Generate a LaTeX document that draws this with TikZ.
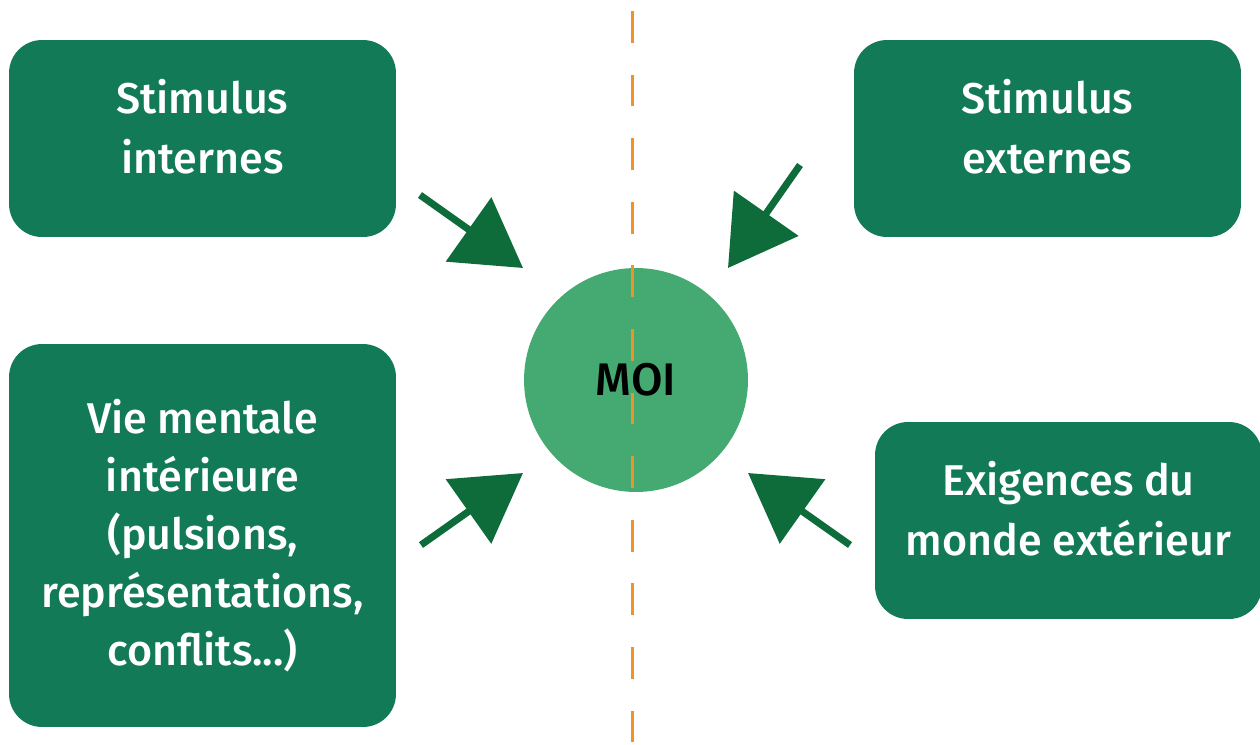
\documentclass[tikz,border=0pt]{standalone}
\usepackage{fontspec}
\setmainfont{Fira Sans}[UprightFont={* Medium}, BoldFont={* SemiBold}]
\usetikzlibrary{arrows.meta}
\definecolor{boxgreen}{RGB}{18,122,87}
\definecolor{moigreen}{RGB}{68,170,114}
\definecolor{arrowgreen}{RGB}{14,107,58}
\definecolor{dashorange}{RGB}{240,146,43}
\begin{document}
\begin{tikzpicture}[x=0.02cm,y=-0.02cm,
    bloc/.style={rectangle, rounded corners=0.66cm, fill=boxgreen, text=white,
        align=center, minimum width=7.74cm, font=\fontsize{24.5}{33}\selectfont},
    petit/.style={bloc, minimum height=3.94cm, text depth=0.48cm,
        font=\fontsize{24.5}{34}\selectfont},
    fleche/.style={arrowgreen, line width=4pt, -{Triangle[length=38pt,width=44pt]}}]
\useasboundingbox (0,0) rectangle (1260,744);
% blocs
\node[petit] (intern) at (202.5,138.5) {Stimulus\\internes};
\node[bloc, minimum height=7.66cm] (mental) at (202.5,535.5)
    {Vie mentale\\intérieure\\(pulsions,\\représentations,\\conflits...)};
\node[petit] (extern) at (1047.5,138.5) {Stimulus\\externes};
\node[petit] (monde) at (1068.5,520.5) {Exigences du\\monde extérieur};
% moi
\node[circle, fill=moigreen, inner sep=0pt, minimum size=4.48cm] (moi) at (636,380) {};
\coordinate (haut) at (632,11);
\coordinate (bas) at (632,744);
\draw[dashorange, line width=1.7pt, dash pattern=on 18.1pt off 18.1pt] (haut) -- (bas);
\node[font=\fontsize{26}{26}\selectfont] (moitxt) at (moi) {MOI};
% fleches
\foreach \i/\sx/\sy/\tx/\ty in {1/420/195/523/268, 2/800/165/728/268,
        3/421/545/523/473, 4/850/545/748/473} {
    \coordinate (s\i) at (\sx,\sy);
    \coordinate (t\i) at (\tx,\ty);
    \draw[fleche] (s\i) -- (t\i);
}
\end{tikzpicture}
\end{document}
